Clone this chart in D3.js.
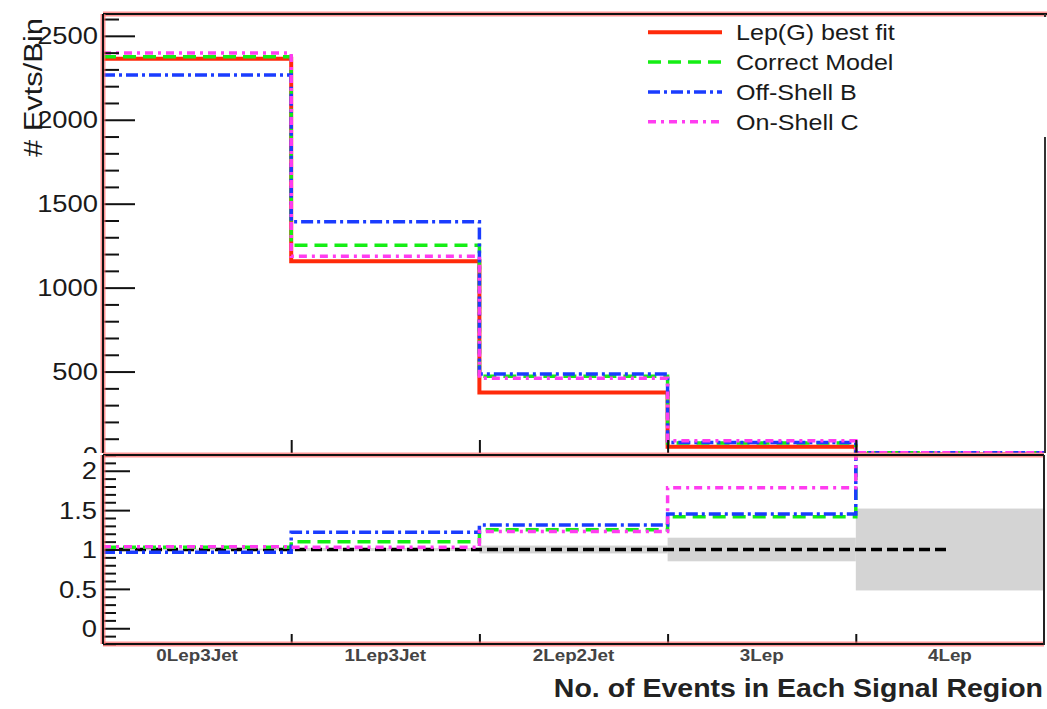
<!DOCTYPE html>
<html>
<head>
<meta charset="utf-8">
<script src="https://cdn.jsdelivr.net/npm/d3@7"></script>
<style>
  html, body { margin: 0; padding: 0; background: #fff; }
  svg { display: block; font-family: "Liberation Sans", Arial, Helvetica, sans-serif; }
</style>
</head>
<body>
<svg id="chart" width="1047" height="709"></svg>
<script>
// Signal regions (bins)
const regions = ["0Lep3Jet", "1Lep3Jet", "2Lep2Jet", "3Lep", "4Lep"];

// Events per bin for each model
const lepGBestFit  = [2363, 1157, 376, 52, 6];
const correctModel = [2376, 1253, 472, 74, 16];
const offShellB    = [2267, 1392, 485, 77, 17];
const onShellC     = [2397, 1187, 460, 88, 16];

// Ratio to the best fit (last bin runs off the top of the ratio pad)
const ratioCorrect   = [1.03, 1.10, 1.25, 1.415, 2.6];
const ratioOffShellB = [0.965, 1.218, 1.31, 1.45, 2.6];
const ratioOnShellC  = [1.035, 1.03, 1.23, 1.785, 2.6];

// Uncertainty band half-widths around 1 and the reference line
const bandHalfWidth = [0.01, 0.02, 0.05, 0.15, 0.52];
const refValue = 1;
const refEnd = 4.5;

// Axis ticks
const topMajorTicks = [0, 500, 1000, 1500, 2000, 2500];
const botMajorTicks = [0, 0.5, 1, 1.5, 2];
const botTickLabels = ["0", "0.5", "1", "1.5", "2"];

const legendLabels = ["Lep(G) best fit", "Correct Model", "Off-Shell B", "On-Shell C"];

const series = [
  { name: legendLabels[0], counts: lepGBestFit,  ratio: null,           color: "#ff2a0a", width: 4,   dash: null },
  { name: legendLabels[1], counts: correctModel, ratio: ratioCorrect,   color: "#14ee14", width: 3.5, dash: "13,7" },
  { name: legendLabels[2], counts: offShellB,    ratio: ratioOffShellB, color: "#1a3cff", width: 3.5, dash: "12,4,3,4" },
  { name: legendLabels[3], counts: onShellC,     ratio: ratioOnShellC,  color: "#ff3cf0", width: 3.5, dash: "8,5,3,5" }
];

const svg = d3.select("#chart");
const W = 1047, H = 709;
const SX = 1.14; // horizontal text stretch

const xL = 103, xR = 1044;
const topY0 = 14, split = 455, botY1 = 644;

const x = d3.scaleLinear().domain([0, regions.length]).range([xL, xR]);
const yTop = d3.scaleLinear().domain([0, 2630]).range([split + 0.5, topY0]);
const yBot = d3.scaleLinear().domain([-0.2, 2.2]).range([botY1, split]);

const defs = svg.append("defs");
defs.append("clipPath").attr("id", "clipTop").append("rect")
  .attr("x", xL).attr("y", topY0).attr("width", xR - xL).attr("height", split - topY0);
defs.append("clipPath").attr("id", "clipBot").append("rect")
  .attr("x", xL).attr("y", split).attr("width", xR - xL).attr("height", botY1 - split);
// the upper pad's "0" label is mostly hidden under the ratio pad
defs.append("clipPath").attr("id", "clipUpperPad").append("rect")
  .attr("x", 0).attr("y", 0).attr("width", W).attr("height", split - 2);

function stepLine(yScale) {
  return d3.line()
    .x((d, i) => x(i))
    .y(d => yScale(d))
    .curve(d3.curveStepAfter);
}
const extend = arr => arr.concat([arr[arr.length - 1]]);

function frameLine(g, x1, y1, x2, y2) {
  g.append("line").attr("x1", x1).attr("y1", y1).attr("x2", x2).attr("y2", y2)
    .attr("stroke", "#ff6a6a").attr("stroke-opacity", 0.7).attr("stroke-width", 5);
  g.append("line").attr("x1", x1).attr("y1", y1).attr("x2", x2).attr("y2", y2)
    .attr("stroke", "#111").attr("stroke-width", 2);
}

function stretchedText(g, tx, ty, txt, size, anchor, weight, fill) {
  return g.append("text")
    .attr("transform", `translate(${tx},${ty}) scale(${SX},1)`)
    .attr("text-anchor", anchor)
    .attr("font-size", size)
    .attr("font-weight", weight || "normal")
    .attr("fill", fill || "#1a1a1a")
    .text(txt);
}

/* ---------------- upper pad ---------------- */
const upperPad = svg.append("g");

// histograms
const histLines = upperPad.append("g").attr("clip-path", "url(#clipTop)");
series.forEach(s => {
  histLines.append("path")
    .attr("d", stepLine(yTop)(extend(s.counts)))
    .attr("fill", "none")
    .attr("stroke", s.color)
    .attr("stroke-width", s.width)
    .attr("stroke-dasharray", s.dash)
    .attr("stroke-linejoin", "miter");
});

// y axis ticks (inside)
const topMinor = d3.range(0, 2631, 100).filter(v => v % 500 !== 0);
upperPad.append("g").attr("transform", `translate(${xL},0)`)
  .call(d3.axisRight(yTop).tickValues(topMinor).tickSize(16).tickFormat(""))
  .call(g => g.select(".domain").remove())
  .selectAll("line").attr("stroke", "#111").attr("stroke-width", 2);
upperPad.append("g").attr("transform", `translate(${xL},0)`)
  .call(d3.axisRight(yTop).tickValues(topMajorTicks).tickSize(32).tickFormat(""))
  .call(g => g.select(".domain").remove())
  .selectAll("line").attr("stroke", "#111").attr("stroke-width", 2);

// y tick labels
const upperLabels = upperPad.append("g").attr("clip-path", "url(#clipUpperPad)");
topMajorTicks.forEach(v => {
  stretchedText(upperLabels, 98, yTop(v), String(v), 24, "end").attr("dy", "0.36em");
});

// x ticks at bin edges (pointing up)
upperPad.append("g").attr("transform", `translate(0,${split})`)
  .call(d3.axisTop(x).tickValues(d3.range(1, regions.length)).tickSize(15).tickFormat(""))
  .call(g => g.select(".domain").remove())
  .selectAll("line").attr("stroke", "#111").attr("stroke-width", 2);

// frame
frameLine(upperPad, xL, topY0, W, topY0);
frameLine(upperPad, xL, topY0, xL, split);
upperPad.append("line").attr("x1", xR + 1).attr("y1", topY0).attr("x2", xR + 1).attr("y2", split)
  .attr("stroke", "#333").attr("stroke-width", 2);

// legend
const leg = upperPad.append("g");
leg.append("rect").attr("x", 632).attr("y", topY0 + 3).attr("width", W - 632).attr("height", 120)
  .attr("fill", "#fff");
series.forEach((s, i) => {
  const cy = 32.3 + i * 29.8;
  leg.append("line").attr("x1", 648).attr("x2", 722).attr("y1", cy).attr("y2", cy)
    .attr("stroke", s.color).attr("stroke-width", s.width).attr("stroke-dasharray", s.dash);
  stretchedText(leg, 736, cy, s.name, 22, "start").attr("dy", "0.36em");
});

// y axis title
upperPad.append("text")
  .attr("transform", "translate(42,18) rotate(-90)")
  .attr("text-anchor", "end")
  .attr("font-size", 25)
  .attr("fill", "#1a1a1a")
  .attr("textLength", 139)
  .attr("lengthAdjust", "spacingAndGlyphs")
  .text("# Evts/Bin");

/* ---------------- lower (ratio) pad ---------------- */
const lowerPad = svg.append("g");
lowerPad.append("rect").attr("x", 0).attr("y", split - 2).attr("width", W).attr("height", H - split + 2)
  .attr("fill", "#fff");

const ratioPlot = lowerPad.append("g").attr("clip-path", "url(#clipBot)");

// uncertainty bands
ratioPlot.selectAll("rect.band").data(bandHalfWidth).join("rect")
  .attr("class", "band")
  .attr("x", (d, i) => x(i))
  .attr("width", (d, i) => x(i + 1) - x(i))
  .attr("y", d => yBot(refValue + d))
  .attr("height", d => yBot(refValue - d) - yBot(refValue + d))
  .attr("fill", "#d4d4d4");

// reference line
ratioPlot.append("line")
  .attr("x1", x(0)).attr("x2", x(refEnd))
  .attr("y1", yBot(refValue)).attr("y2", yBot(refValue))
  .attr("stroke", "#000").attr("stroke-width", 3.5).attr("stroke-dasharray", "11,5");

// ratio curves
series.filter(s => s.ratio).forEach(s => {
  ratioPlot.append("path")
    .attr("d", stepLine(yBot)(extend(s.ratio)))
    .attr("fill", "none")
    .attr("stroke", s.color)
    .attr("stroke-width", s.width)
    .attr("stroke-dasharray", s.dash);
});

// y ticks
const botMinor = d3.range(-2, 23).map(v => v / 10).filter(v => Math.abs(v * 2 - Math.round(v * 2)) > 1e-6);
lowerPad.append("g").attr("transform", `translate(${xL},0)`)
  .call(d3.axisRight(yBot).tickValues(botMinor).tickSize(13).tickFormat(""))
  .call(g => g.select(".domain").remove())
  .selectAll("line").attr("stroke", "#111").attr("stroke-width", 2);
lowerPad.append("g").attr("transform", `translate(${xL},0)`)
  .call(d3.axisRight(yBot).tickValues(botMajorTicks).tickSize(27).tickFormat(""))
  .call(g => g.select(".domain").remove())
  .selectAll("line").attr("stroke", "#111").attr("stroke-width", 2);
botMajorTicks.forEach((v, i) => {
  stretchedText(lowerPad, 97, yBot(v), botTickLabels[i], 24, "end").attr("dy", "0.36em");
});

// x ticks at bin edges
lowerPad.append("g").attr("transform", `translate(0,${botY1})`)
  .call(d3.axisTop(x).tickValues(d3.range(1, regions.length)).tickSize(10).tickFormat(""))
  .call(g => g.select(".domain").remove())
  .selectAll("line").attr("stroke", "#111").attr("stroke-width", 2);

// frame
frameLine(lowerPad, xL, split, xR, split);
frameLine(lowerPad, xL, botY1, xR, botY1);
frameLine(lowerPad, xL, split, xL, botY1);
lowerPad.append("line").attr("x1", xR).attr("y1", split).attr("x2", xR).attr("y2", botY1 + 1)
  .attr("stroke", "#222").attr("stroke-width", 2);

// bin labels
regions.forEach((r, i) => {
  stretchedText(lowerPad, x(i + 0.5), 661, r, 16.5, "middle", "bold", "#444");
});

// x axis title
stretchedText(lowerPad, 1043, 697, "No. of Events in Each Signal Region", 25, "end", "bold", "#222");
</script>
</body>
</html>
